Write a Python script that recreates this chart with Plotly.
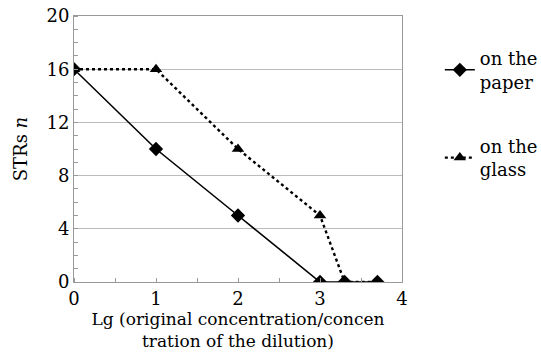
import plotly.graph_objects as go

x_paper = [0, 1, 2, 3, 3.3, 3.7]
y_paper = [16, 10, 5, 0, 0, 0]
x_glass = [0, 1, 2, 3, 3.3, 3.7]
y_glass = [16, 16, 10, 5, 0, 0]
x_ticks = [0, 1, 2, 3, 4]
y_ticks = [0, 4, 8, 12, 16, 20]

font = "DejaVu Serif"
fig = go.Figure()
fig.add_trace(go.Scatter(x=x_paper, y=y_paper, mode="lines+markers",
                         name="on the<br>paper", legendgroup="a",
                         line=dict(color="black", width=1.6),
                         marker=dict(symbol="diamond", size=11, color="black")))
fig.add_trace(go.Scatter(x=x_glass, y=y_glass, mode="lines+markers",
                         name="on the<br>glass", legendgroup="b",
                         line=dict(color="black", width=2.4, dash="dot"),
                         marker=dict(symbol="triangle-up", size=11, color="black")))

fig.update_layout(
    width=541, height=353,
    margin=dict(l=74, r=139, t=16, b=71),
    paper_bgcolor="white", plot_bgcolor="white",
    font=dict(family=font, size=18, color="black"),
    legend=dict(xref="container", yref="container", x=0.813, y=0.887,
                xanchor="left", yanchor="top",
                tracegroupgap=38, font=dict(size=18),
                bgcolor="rgba(0,0,0,0)"),
    xaxis=dict(range=[0, 4], tickvals=x_ticks, showgrid=False,
               showline=True, linecolor="#999", mirror=True, linewidth=1,
               ticks="", zeroline=False, automargin=False,
               minor=dict(dtick=0.5, ticks="inside", ticklen=4, tickcolor="#999"),
               title=dict(text="Lg (original concentration/concen<br>tration of the dilution)",
                          standoff=2, font=dict(size=17))),
    yaxis=dict(range=[0, 20], tickvals=y_ticks, showgrid=True, gridcolor="#bbb",
               showline=True, linecolor="#999", mirror=True, linewidth=1,
               ticks="", zeroline=False, automargin=False,
               minor=dict(dtick=1, ticks="inside", ticklen=4, tickcolor="#999", showgrid=False),
               title=dict(text="STRs <i>n</i>", standoff=14, font=dict(size=18))),
)
fig.write_html("out.html", config={"displayModeBar": False},
               post_script="document.body.style.margin='0px';")
